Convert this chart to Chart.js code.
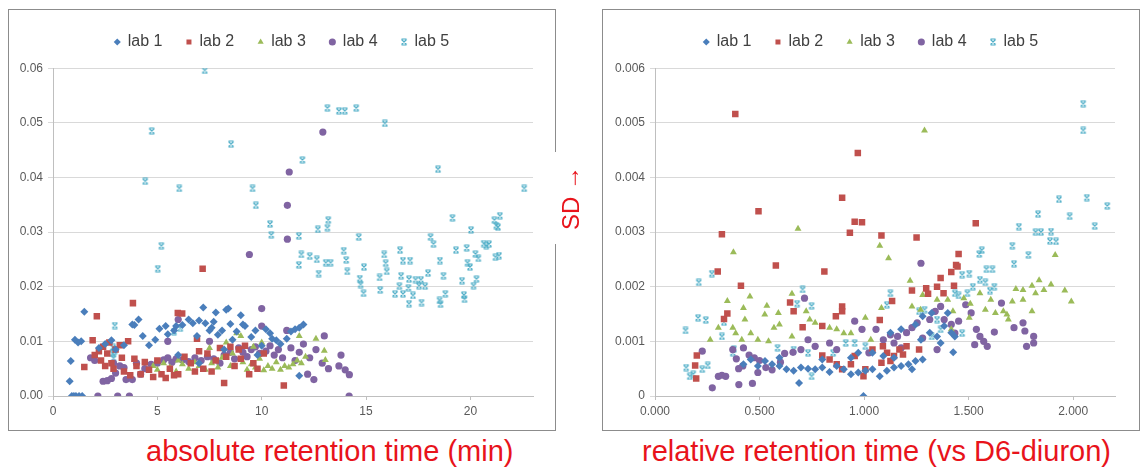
<!DOCTYPE html>
<html>
<head>
<meta charset="utf-8">
<script src="https://cdn.jsdelivr.net/npm/chart.js@4.4.1/dist/chart.umd.min.js"></script>
<style>
  body { margin: 0; background: #fff; width: 1141px; height: 470px; position: relative; overflow: hidden;
         font-family: "Liberation Sans", Arial, sans-serif; }
  .panel { position: absolute; border: 1px solid #8c8c8c; background: #fff; }
  #p1 { left: 8px; top: 9px; width: 546px; height: 420px; }
  #p2 { left: 602px; top: 9px; width: 536px; height: 420px; }
  .cap { position: absolute; color: #e8131b; font-size: 29px; white-space: nowrap; }
  #cap1 { left: 146px; top: 435px; }
  #cap2 { left: 642px; top: 435px; }
  #sd { font-size: 24px; left: 571px; top: 198px; transform: translate(-50%, -50%) rotate(-90deg); background: #fff; padding: 4px 14px; }
</style>
</head>
<body>
<div class="panel" id="p1"><canvas id="absChart" width="546" height="420"></canvas></div>
<div class="panel" id="p2"><canvas id="relChart" width="536" height="420"></canvas></div>
<div class="cap" id="sd">SD →</div>
<div class="cap" id="cap1">absolute retention time (min)</div>
<div class="cap" id="cap2">relative retention time (vs D6-diuron)</div>
<script>
// series names and colours
const labs = ['lab 1', 'lab 2', 'lab 3', 'lab 4', 'lab 5'];
const colors = ['#4a7ebb', '#c0504d', '#9bbb59', '#8064a2', '#4bacc6'];

// absolute retention time (min) vs SD
const absLab1 = [[0.8,0.0027],[0.85,0.0064],[0.9,0],[1.0,0],[1.1,0],[1.25,0],[1.4,0],[1.05,0.0103],[1.2,0.0098],[1.35,0.0100],
  [1.5,0.0154],[2.2,0.0088],[2.5,0.0095],[2.8,0.0102],[3.4,0.0093],[3.8,0.0131],[3.9,0.0130],[4.1,0.0140],[4.3,0.0110],[4.6,0.0093],
  [4.9,0.0103],[5.1,0.0123],[5.4,0.0128],[5.5,0.0113],[5.8,0.0120],[5.9,0.0128],[6.2,0.0130],[6.5,0.0140],[6.7,0.0133],[6.9,0.0110],
  [7.0,0.0138],[7.2,0.0162],[7.3,0.0133],[7.5,0.0120],[7.6,0.0125],[7.7,0.0136],[7.8,0.0153],[7.9,0.0112],[8.1,0.0120],[8.3,0.0158],
  [8.4,0.0160],[8.5,0.0132],[8.6,0.0103],[8.8,0.0118],[9.0,0.0148],[9.1,0.0131],[9.2,0.0128],[9.5,0.0108],[9.7,0.0120],[10.0,0.0092],
  [10.2,0.0122],[10.4,0.0115],[10.5,0.0105],[10.7,0.0102],[10.9,0.0095],[11.2,0.0105],[11.4,0.0118],[11.6,0.0122],[11.8,0.0125],[12.0,0.0131],
  [11.8,0.0037],[9.8,0.0075],[6.0,0.0075],[3.0,0.0085],[7.0,0.0060],[8.2,0.0085]];
const absLab2 = [[1.5,0.0053],[1.9,0.0102],[2.1,0.0146],[2.0,0.0075],[2.2,0.0082],[2.3,0.0065],[2.4,0.0090],[2.5,0.0055],[2.6,0.0078],[2.7,0.0098],
  [2.8,0.0060],[2.9,0.0050],[3.0,0.0085],[3.2,0.0093],[3.3,0.0070],[3.4,0.0045],[3.6,0.0100],[3.83,0.0170],[3.9,0.0068],[4.0,0.0055],
  [4.2,0.0040],[4.4,0.0062],[4.6,0.0048],[4.8,0.0035],[5.0,0.0065],[5.2,0.0040],[5.4,0.0033],[5.6,0.0050],[5.8,0.0038],[5.98,0.0152],
  [6.19,0.0151],[6.3,0.0072],[6.6,0.0060],[6.9,0.0105],[7.0,0.0082],[7.17,0.0233],[7.2,0.0050],[7.4,0.0078],[7.6,0.0045],[7.8,0.0065],
  [8.0,0.0088],[8.2,0.0024],[8.3,0.0072],[8.5,0.0090],[8.7,0.0055],[8.9,0.0085],[9.0,0.0068],[9.2,0.0092],[9.4,0.0040],[9.6,0.0060],
  [9.8,0.0050],[10.1,0.0078],[11.06,0.0019],[3.7,0.0038],[6.0,0.0040],[6.8,0.0045]];
const absLab3 = [[4.8,0.0055],[5.0,0.0048],[5.3,0.0060],[5.6,0.0052],[5.9,0.0045],[6.2,0.0058],[6.5,0.0050],[6.8,0.0062],[7.0,0.0055],[7.3,0.0048],
  [7.6,0.0060],[7.9,0.0052],[8.1,0.0070],[8.3,0.0098],[8.5,0.0055],[8.8,0.0115],[9.0,0.0110],[9.1,0.0062],[9.3,0.0048],[9.5,0.0058],
  [9.7,0.0052],[9.9,0.0068],[10.1,0.0047],[10.3,0.0055],[10.5,0.0050],[10.7,0.0062],[10.9,0.0048],[11.1,0.0055],[11.3,0.0052],[11.5,0.0058],
  [11.7,0.0065],[11.8,0.0110],[11.9,0.0060],[12.1,0.0072],[12.6,0.0105],[13.0,0.0083],[13.05,0.0066],[7.5,0.0088],[9.6,0.0090],[6.0,0.0065],
  [10.0,0.0098],[8.6,0.0078]];
const absLab4 = [[2.15,0],[3.1,0],[3.66,0],[14.19,0],[1.8,0.0070],[2.0,0.0065],[2.4,0.0027],[2.6,0.0028],[2.8,0.0032],[2.9,0.0060],
  [3.0,0.0042],[3.2,0.0055],[3.4,0.0052],[3.5,0.0030],[3.8,0.0030],[4.0,0.0060],[4.2,0.0040],[4.4,0.0050],[4.7,0.0058],[5.0,0.0060],
  [5.3,0.0066],[5.5,0.0070],[5.7,0.0062],[5.9,0.0068],[6.2,0.0066],[6.5,0.0063],[6.8,0.0070],[7.1,0.0065],[7.4,0.0072],[7.7,0.0068],
  [8.0,0.0060],[8.2,0.0075],[8.5,0.0080],[8.7,0.0068],[8.9,0.0088],[9.1,0.0080],[9.3,0.0072],[9.5,0.0085],[9.7,0.0090],[9.9,0.0078],
  [10.0,0.0160],[10.0,0.0128],[10.2,0.0082],[10.4,0.0092],[10.6,0.0075],[10.8,0.0085],[11.0,0.0070],[11.2,0.0120],[11.4,0.0088],[11.6,0.0065],
  [11.8,0.0080],[12.0,0.0095],[12.2,0.0040],[12.3,0.0070],[12.5,0.0030],[12.6,0.0085],[12.9,0.0060],[13.0,0.0110],[13.2,0.0050],[13.7,0.0055],
  [13.8,0.0075],[14.0,0.0048],[14.2,0.0039],[12.93,0.0483],[11.32,0.0410],[11.23,0.0349],[11.23,0.0287],[9.41,0.0259],[6.0,0.0140],[5.5,0.0100],
  [7.5,0.0100]];
const absLab5 = [[7.27,0.0596],[4.73,0.0485],[4.42,0.0393],[5.02,0.0233],[5.19,0.0275],[6.05,0.0380],[8.53,0.0461],[9.56,0.0380],[9.72,0.0349],[10.4,0.0315],
  [10.46,0.0295],[11.95,0.0432],[11.78,0.0293],[11.9,0.0259],[11.78,0.0240],[12.3,0.0256],[12.64,0.0250],[12.73,0.0224],[12.69,0.0305],[13.15,0.0308],
  [13.19,0.0322],[13.07,0.0244],[13.3,0.0244],[13.15,0.0527],[13.7,0.0522],[13.98,0.0522],[14.53,0.0527],[15.9,0.0499],[13.93,0.0266],[14.05,0.0249],
  [14.1,0.0228],[14.65,0.0291],[14.7,0.0215],[14.74,0.0204],[14.88,0.0188],[14.9,0.0236],[15.65,0.0217],[15.68,0.0194],[15.87,0.0259],[15.94,0.0243],
  [15.99,0.0228],[16.63,0.0267],[16.68,0.0220],[16.6,0.0201],[16.39,0.0187],[16.77,0.0187],[16.77,0.0248],[17.11,0.0248],[17.06,0.0214],[17.03,0.0198],
  [17.06,0.0169],[17.25,0.0184],[17.37,0.0213],[17.54,0.0202],[17.63,0.0213],[17.66,0.0171],[17.83,0.0201],[17.97,0.0225],[18.09,0.0291],[18.23,0.0278],
  [18.45,0.0415],[18.54,0.0248],[18.52,0.0175],[18.57,0.0168],[18.71,0.0220],[18.8,0.0187],[19.14,0.0326],[19.31,0.0267],[19.6,0.0211],[19.69,0.0185],
  [19.72,0.0177],[19.82,0.0271],[19.86,0.0244],[19.98,0.0236],[20.03,0.0304],[20.15,0.0202],[20.29,0.0214],[20.24,0.0260],[20.38,0.0252],[20.64,0.0279],
  [20.76,0.0275],[20.89,0.0278],[21.15,0.0322],[21.24,0.0312],[21.32,0.0309],[21.41,0.0330],[21.2,0.0254],[21.37,0.0257],[22.58,0.0380],
  [2.96,0.0129],[2.87,0.0089],[2.85,0.0078],[2.9,0.0069],[2.95,0.0083],[5.8,0.0118],[6.1,0.0124]];

// relative retention time (vs D6-diuron) vs SD
const relLab1 = [[0.997,0],[0.689,0.00024],[0.492,0.00055],[0.526,0.00064],[0.56,0.00058],[0.595,0.00055],[0.629,0.00049],[0.663,0.00046],[0.698,0.00052],[0.732,0.0005],
  [0.766,0.00049],[0.8,0.00052],[0.835,0.00044],[0.869,0.00055],[0.903,0.00049],[0.937,0.0004],[0.972,0.00043],[1.006,0.00046],[1.04,0.00049],[1.075,0.00036],
  [1.109,0.00046],[1.143,0.00052],[1.177,0.00055],[1.212,0.00058],[1.246,0.00064],[1.28,0.00067],[1.229,0.00049],[1.143,0.0007],[1.092,0.00073],[1.04,0.00079],
  [1.126,0.00116],[1.177,0.00122],[1.246,0.00131],[1.28,0.00146],[1.314,0.00116],[1.349,0.00109],[1.383,0.00128],[1.417,0.00116],[1.426,0.0008],[1.366,0.00097],
  [1.323,0.00152],[1.4,0.00152],[0.423,0.00058],[0.458,0.00067],[0.972,0.00079],[0.937,0.0007],[0.595,0.0007],[0.8,0.00067],[1.434,0.00109],[1.272,0.00103]];
const relLab2 = [[0.384,0.00516],[0.97,0.00445],[0.895,0.00363],[0.955,0.00319],[0.99,0.00318],[0.932,0.00299],[1.083,0.00294],[1.251,0.0029],[0.495,0.00338],[0.32,0.00296],
  [0.30,0.00228],[0.578,0.00239],[0.81,0.00228],[0.411,0.00202],[1.534,0.00316],[1.452,0.0026],[1.44,0.0024],[1.447,0.00237],[1.417,0.00227],[1.366,0.00216],
  [1.349,0.002],[1.297,0.00197],[1.229,0.00193],[1.306,0.00187],[1.38,0.00188],[1.43,0.00202],[1.134,0.00174],[0.646,0.00171],[0.663,0.00155],[0.895,0.00164],
  [0.895,0.00155],[0.865,0.00146],[0.706,0.00126],[0.80,0.00128],[1.075,0.00139],[0.346,0.00151],[0.33,0.00141],[0.2,0.00074],[0.192,0.00056],[0.197,0.00032],
  [0.8,0.00074],[0.835,0.00067],[0.869,0.00058],[0.895,0.00049],[0.937,0.00058],[0.955,0.00073],[1.006,0.00049],[0.997,0.00036],[1.04,0.00085],[1.09,0.00091],
  [1.11,0.00079],[1.126,0.00064],[1.143,0.00073],[1.169,0.00085],[1.186,0.00076],[1.203,0.00091],[1.263,0.00085],[1.083,0.00061]];
const relLab3 = [[1.289,0.00486],[1.075,0.00275],[1.117,0.00252],[0.684,0.00306],[0.375,0.00263],[1.914,0.00258],[0.346,0.00174],[0.454,0.00182],[0.655,0.00187],[0.723,0.00155],
  [0.535,0.00165],[0.59,0.00152],[0.423,0.00161],[0.303,0.00125],[0.372,0.00125],[0.386,0.00115],[0.43,0.0014],[0.525,0.00149],[0.569,0.00125],[0.595,0.00131],
  [0.264,0.00103],[0.415,0.00103],[0.458,0.00115],[0.492,0.00103],[0.543,0.001],[0.655,0.00109],[0.74,0.0014],[0.766,0.00134],[0.835,0.00125],[0.869,0.00122],
  [0.903,0.00115],[0.937,0.00115],[1.006,0.00143],[1.083,0.00161],[1.032,0.00103],[1.22,0.00211],[1.229,0.00164],[1.27,0.00158],[1.28,0.00185],[1.349,0.00176],
  [1.4,0.00176],[1.425,0.00155],[1.477,0.00179],[1.508,0.00169],[1.554,0.00188],[1.606,0.00176],[1.58,0.00158],[1.628,0.00152],[1.666,0.00155],[1.683,0.00149],
  [1.709,0.00173],[1.726,0.00196],[1.76,0.00176],[1.76,0.00194],[1.803,0.00202],[1.837,0.00212],[1.82,0.00188],[1.86,0.00194],[1.894,0.00204],[1.96,0.00193],
  [1.991,0.00173],[1.803,0.00155],[1.69,0.0014],[1.503,0.00143],[1.417,0.00122]];
const relLab4 = [[1.272,0.00243],[0.274,0.00015],[0.401,0.00021],[0.466,0.00023],[0.303,0.00036],[0.32,0.00038],[0.338,0.00036],[0.226,0.00082],[0.389,0.00068],[0.372,0.00085],
  [0.423,0.00088],[0.475,0.0007],[0.492,0.00043],[0.53,0.00052],[0.56,0.00048],[0.6,0.00062],[0.62,0.00078],[0.66,0.0008],[0.5,0.00065],[0.45,0.00075],
  [0.4,0.0005],[0.42,0.00055],[0.715,0.00179],[0.698,0.00085],[0.732,0.00103],[0.766,0.00091],[0.835,0.00097],[0.869,0.00085],[0.955,0.00137],[0.99,0.00122],
  [1.023,0.00079],[1.057,0.00122],[1.092,0.00103],[1.126,0.00112],[1.143,0.00097],[1.16,0.00109],[1.177,0.00088],[1.203,0.00116],[1.229,0.00125],[1.254,0.00134],
  [1.28,0.00106],[1.314,0.0014],[1.34,0.00155],[1.366,0.00164],[1.383,0.0014],[1.417,0.00131],[1.434,0.00115],[1.452,0.00137],[1.486,0.00167],[1.512,0.00152],
  [1.537,0.00122],[1.554,0.00109],[1.572,0.001],[1.589,0.00091],[1.529,0.00094],[1.623,0.00117],[1.657,0.0017],[1.717,0.00125],[1.76,0.00134],[1.769,0.00119],
  [1.777,0.00091],[1.811,0.00097],[1.811,0.00109],[1.349,0.00085]];
const relLab5 = [[2.048,0.00535],[2.048,0.00486],[2.065,0.00363],[1.932,0.0036],[2.163,0.00348],[1.983,0.00329],[1.832,0.00333],[2.103,0.00311],[1.82,0.003],[1.846,0.003],
  [1.894,0.00301],[1.889,0.00284],[1.918,0.00283],[1.74,0.0031],[1.709,0.00275],[1.717,0.00242],[1.786,0.00258],[1.563,0.00267],[1.551,0.0026],[1.585,0.00232],
  [1.614,0.00232],[1.554,0.00213],[1.58,0.00208],[1.602,0.00193],[1.623,0.002],[1.503,0.00224],[1.469,0.00222],[1.52,0.002],[1.494,0.00188],[1.452,0.00184],
  [0.209,0.00208],[0.272,0.00224],[0.206,0.00143],[0.243,0.00139],[0.146,0.0012],[0.33,0.00135],[0.32,0.00109],[0.706,0.00195],[0.749,0.00165],[0.68,0.00169],
  [0.149,0.00052],[0.166,0.00036],[0.183,0.0004],[0.226,0.00049],[0.252,0.00056],[0.377,0.00086],[0.372,0.00079],[0.586,0.00088],[0.663,0.00085],[0.732,0.00079],
  [0.749,0.00036],[0.852,0.00079],[0.912,0.00097],[0.955,0.00097],[1.006,0.00091],[1.109,0.00167],[1.126,0.00188],[1.263,0.00155],[1.289,0.00158],[1.349,0.0014],
  [1.366,0.00122],[1.469,0.00115],[1.434,0.00188],[1.323,0.00109]];

const absSeries = [absLab1, absLab2, absLab3, absLab4, absLab5];
const relSeries = [relLab1, relLab2, relLab3, relLab4, relLab5];

// Excel-like "star" marker for lab 5
function starMarker(color) {
  const c = document.createElement('canvas');
  c.width = 8; c.height = 8;
  const g = c.getContext('2d');
  g.strokeStyle = color;
  g.lineWidth = 1.2;
  g.beginPath();
  g.moveTo(1.5, 1.5); g.lineTo(6.5, 6.5);
  g.moveTo(6.5, 1.5); g.lineTo(1.5, 6.5);
  g.moveTo(1.5, 1); g.lineTo(6.5, 1);
  g.moveTo(1.5, 7); g.lineTo(6.5, 7);
  g.stroke();
  return c;
}

const styles = ['rectRot', 'rect', 'triangle', 'circle', starMarker(colors[4])];
const radii = [4, 4.6, 4, 3.6, 4];

function makeDatasets(series) {
  return series.map((pts, i) => ({
    label: labs[i],
    data: pts.map(p => ({ x: p[0], y: p[1] })),
    pointStyle: styles[i],
    pointRadius: radii[i],
    backgroundColor: colors[i],
    borderColor: colors[i],
    borderWidth: 0,
    showLine: false
  }));
}

const tickFont = { family: '"Liberation Sans", Arial, sans-serif', size: 12 };

function makeChart(id, series, xOpts, yOpts, rightGap) {
  return new Chart(document.getElementById(id), {
    type: 'scatter',
    data: { datasets: makeDatasets(series) },
    options: {
      responsive: false,
      animation: false,
      events: [],
      layout: { padding: { top: 0, left: 0, right: 0, bottom: 0 } },
      plugins: {
        tooltip: { enabled: false },
        // empty title used only as a spacer between legend and plot
        title: { display: true, text: ' ', weight: 500, font: { size: 1 }, padding: { top: 0, bottom: 7 } },
        legend: {
          position: 'top',
          labels: {
            usePointStyle: true,
            boxWidth: 5, boxHeight: 5,
            padding: 24,
            color: '#404040',
            font: { family: '"Liberation Sans", Arial, sans-serif', size: 16 }
          }
        }
      },
      scales: {
        x: {
          type: 'linear',
          min: 0, max: xOpts.max,
          afterFit: s => { s.height = 34; },
          grid: { drawOnChartArea: false, tickLength: 4, color: '#bfbfbf' },
          border: { color: '#bfbfbf' },
          ticks: { stepSize: xOpts.step, includeBounds: false, color: '#595959', font: tickFont, padding: 4,
                   callback: xOpts.fmt }
        },
        y: {
          min: 0, max: yOpts.max,
          afterFit: s => { s.width = yOpts.width; },
          grid: { color: '#d9d9d9', tickLength: 5 },
          border: { color: '#bfbfbf' },
          ticks: { stepSize: yOpts.step, color: '#595959', font: tickFont, padding: 5,
                   callback: yOpts.fmt }
        },
        gap: {
          position: 'right',
          afterFit: s => { s.width = rightGap; },
          grid: { display: false },
          border: { display: false },
          ticks: { display: false }
        }
      }
    }
  });
}

makeChart('absChart', absSeries,
  { max: 23, step: 5, fmt: v => String(v) },
  { max: 0.06, step: 0.01, width: 44, fmt: v => v.toFixed(2) }, 22);

makeChart('relChart', relSeries,
  { max: 2.2, step: 0.5, fmt: v => v.toFixed(3) },
  { max: 0.006, step: 0.001, width: 52, fmt: v => (Math.abs(v) < 1e-9 ? '0' : v.toFixed(3)) }, 24);
</script>
</body>
</html>
